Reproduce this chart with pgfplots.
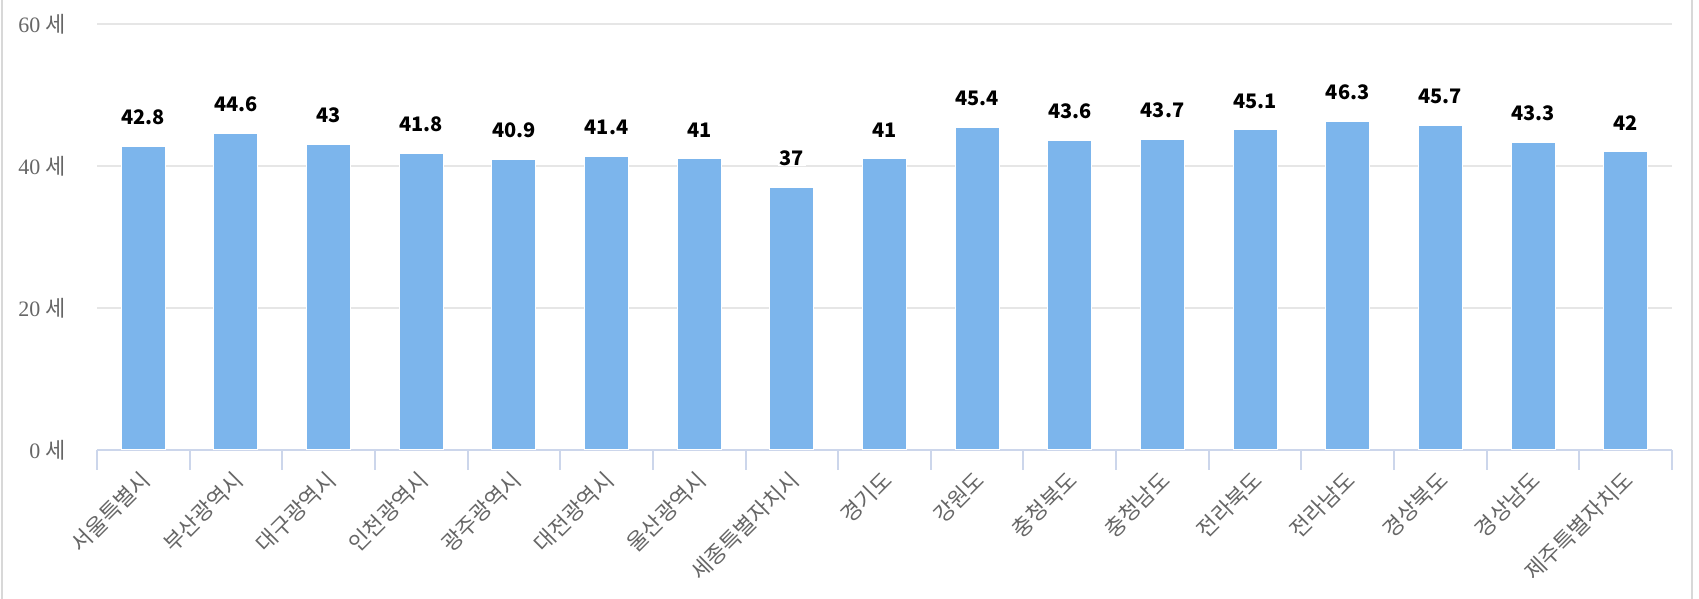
\documentclass[border=0pt]{standalone}
\usepackage{fontspec}
\usepackage{pgfplots}
\pgfplotsset{compat=1.18}
\setmainfont{Noto Sans CJK KR}
\newfontfamily\serifnum{Liberation Serif}
\definecolor{barc}{HTML}{7CB5EC}
\definecolor{gridc}{HTML}{E6E6E6}
\definecolor{axisc}{HTML}{CCD6EB}
\definecolor{labc}{HTML}{666666}
\definecolor{framec}{HTML}{D8D8D8}
\begin{document}
\begin{tikzpicture}
\useasboundingbox (0,0) rectangle (849.5pt,299.5pt);
\draw[framec, line width=1pt] (0.75pt,0) -- (0.75pt,299.5pt);
\draw[framec, line width=1pt] (846pt,0) -- (846pt,299.5pt);
\begin{axis}[
  at={(48.5pt,74.5pt)}, anchor=south west,
  width=787.5pt, height=213pt, scale only axis,
  xmin=-0.5, xmax=16.5, ymin=0, ymax=60,
  ybar, bar width=22pt,
  axis x line*=bottom, axis y line*=left,
  x axis line style={-, draw=axisc, line width=1pt},
  y axis line style={-, draw=none},
  xtick={0,...,16},
  xticklabels={서울특별시,부산광역시,대구광역시,인천광역시,광주광역시,대전광역시,울산광역시,세종특별자치시,경기도,강원도,충청북도,충청남도,전라북도,전라남도,경상북도,경상남도,제주특별자치도},
  minor xtick={-0.5,0.5,...,16.5},
  major tick length=0pt,
  minor tick length=10pt,
  tick align=outside,
  minor tick style={axisc, line width=1pt},
  major tick style={draw=none},
  ytick={0,20,40,60},
  yticklabels={{\serifnum 0} 세,{\serifnum 20} 세,{\serifnum 40} 세,{\serifnum 60} 세},
  ymajorgrids, grid style={gridc, line width=1pt},
  xticklabel style={xshift=1.7pt, yshift=-12.85pt, rotate=45, anchor=east, inner sep=0pt, font=\fontsize{11}{12}\selectfont, text=labc},
  yticklabel style={anchor=east, inner sep=0pt, xshift=-15.5pt, font=\fontsize{11}{12}\selectfont, text=labc},
  /pgf/number format/assume math mode=true,
  nodes near coords,
  every node near coord/.append style={font=\fontsize{10}{12}\selectfont\bfseries, text=black, anchor=south, yshift=10.5pt, fill=white, inner xsep=1pt, inner ysep=0pt},
]
\addplot[fill=barc, draw=white, line width=0.5pt] coordinates {
(0,42.8) (1,44.6) (2,43) (3,41.8) (4,40.9) (5,41.4) (6,41) (7,37) (8,41)
(9,45.4) (10,43.6) (11,43.7) (12,45.1) (13,46.3) (14,45.7) (15,43.3) (16,42)};
\end{axis}
\end{tikzpicture}
\end{document}
